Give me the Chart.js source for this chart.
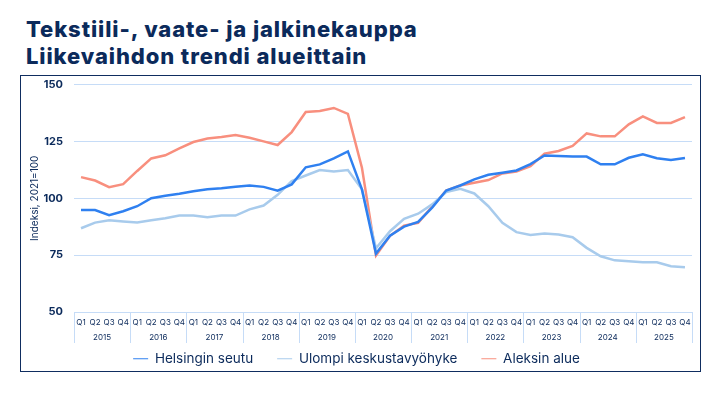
<!DOCTYPE html>
<html>
<head>
<meta charset="utf-8">
<script src="https://cdn.jsdelivr.net/npm/chart.js@4.4.1/dist/chart.umd.min.js"></script>
<style>
  body { margin: 0; background: #fff; width: 720px; height: 405px; overflow: hidden; font-family: Inter, "Noto Sans", sans-serif; }
  #title { position: absolute; left: 26px; top: 16px; color: #0b2a5b; font-size: 22px; font-weight: 800; line-height: 27px; letter-spacing: 0.9px; }
  #box { position: absolute; left: 20px; top: 75px; width: 679px; height: 295px; border: 1.5px solid #0f2d60; }
</style>
</head>
<body>
<div id="title">Tekstiili-, vaate- ja jalkinekauppa<br>Liikevaihdon trendi alueittain</div>
<div id="box"><canvas id="chartId"></canvas></div>
<script>
// years and quarters on the x axis
const years = ["2015", "2016", "2017", "2018", "2019", "2020", "2021", "2022", "2023", "2024", "2025"];
const quarters = ["Q1", "Q2", "Q3", "Q4"];
var labels = [];
for (let i = 0; i < years.length; i++) {
  for (let j = 0; j < quarters.length; j++) {
    labels.push(quarters[j]);
  }
}

// series values (index, 2021=100)
const helsinki = [94.8, 94.8, 92.6, 94.3, 96.5, 100.0, 101.1, 102.0, 103.1, 104.0, 104.4, 105.1,
  105.6, 105.0, 103.3, 106.1, 113.6, 114.9, 117.5, 120.6, 103.9, 75.7, 83.5, 87.5,
  89.6, 95.9, 103.4, 105.6, 108.3, 110.3, 111.2, 112.2, 115.0, 118.8, 118.6, 118.3,
  118.3, 114.9, 114.9, 117.8, 119.3, 117.6, 116.8, 117.7];
const ulompi = [86.8, 89.3, 90.3, 89.8, 89.3, 90.3, 91.2, 92.4, 92.4, 91.7, 92.4, 92.4,
  95.1, 96.8, 101.5, 107.6, 110.0, 112.4, 111.8, 112.4, 103.9, 78.0, 85.5, 91.0,
  93.2, 97.3, 102.7, 104.2, 102.1, 96.5, 89.2, 85.1, 83.9, 84.5, 84.1, 82.9,
  78.2, 74.5, 72.7, 72.3, 71.9, 71.9, 70.1, 69.7];
const aleksi = [109.3, 107.8, 104.9, 106.2, 112.0, 117.5, 118.9, 121.9, 124.7, 126.3, 126.9, 127.8,
  126.6, 125.0, 123.4, 129.1, 137.9, 138.4, 139.7, 137.1, 113.4, 74.8, 83.5, 88.0,
  89.2, 96.3, 103.4, 105.6, 106.8, 108.0, 110.9, 111.7, 114.1, 119.6, 120.8, 123.0,
  128.5, 127.2, 127.2, 132.5, 136.0, 133.1, 133.1, 135.7];
const yTicks = [50, 75, 100, 125, 150];

const navy = "#0b2a5b";
const gridCol = "#c6dcf7";
const fontFam = "Inter, 'Noto Sans', sans-serif";

// year labels and separators under the quarter ticks
const yearAxis = {
  id: "yearAxis",
  afterDraw(chart) {
    const ctx = chart.ctx;
    const x = chart.scales.x;
    const bottom = chart.chartArea.bottom;
    const step = x.getPixelForValue(1) - x.getPixelForValue(0);
    ctx.save();
    ctx.strokeStyle = gridCol;
    ctx.lineWidth = 1;
    ctx.fillStyle = navy;
    ctx.font = "8px " + fontFam;
    ctx.textAlign = "center";
    ctx.textBaseline = "middle";
    for (let k = 0; k <= years.length; k++) {
      const px = Math.round(x.getPixelForValue(k * 4) - step / 2) + 0.5;
      ctx.beginPath();
      ctx.moveTo(px, bottom);
      ctx.lineTo(px, bottom + 31);
      ctx.stroke();
      if (k < years.length) {
        const c = (x.getPixelForValue(k * 4) + x.getPixelForValue(k * 4 + 3)) / 2;
        ctx.fillText(years[k], c, bottom + 26);
      }
    }
    ctx.restore();
  }
};

chrt = document.getElementById("chartId").getContext("2d");

chartId = new Chart(chrt, {
  type: "line",
  data: {
    labels: labels,
    datasets: [
      { label: "Helsingin seutu", data: helsinki, borderColor: "#2f80f0", backgroundColor: "#2f80f0" },
      { label: "Ulompi keskustavyöhyke", data: ulompi, borderColor: "#a8cbec", backgroundColor: "#a8cbec" },
      { label: "Aleksin alue", data: aleksi, borderColor: "#f88f7e", backgroundColor: "#f88f7e" },
    ],
  },
  options: {
    responsive: true,
    maintainAspectRatio: false,
    animation: false,
    elements: {
      line: { borderWidth: 2.5, tension: 0 },
      point: { radius: 0 },
    },
    layout: { padding: { top: 8.5, right: 8, left: 0, bottom: 0 } },
    plugins: {
      tooltip: { enabled: false },
      legend: {
        position: "bottom",
        maxHeight: 43,
        labels: {
          usePointStyle: true,
          pointStyle: "line",
          pointStyleWidth: 15,
          padding: 24,
          color: navy,
          font: { family: fontFam, size: 13.5 },
        },
      },
    },
    scales: {
      x: {
        offset: true,
        grid: { display: false, drawTicks: false },
        border: { display: true, color: gridCol },
        ticks: {
          autoSkip: false,
          maxRotation: 0,
          padding: 6,
          color: navy,
          font: { family: fontFam, size: 8 },
        },
        afterFit: (s) => { s.height = 16; },
      },
      y: {
        min: 50,
        max: 150,
        afterBuildTicks: (s) => { s.ticks = yTicks.map((v) => ({ value: v })); },
        grid: { color: gridCol, drawTicks: true, tickLength: 11, tickColor: "rgba(0,0,0,0)" },
        border: { display: false },
        ticks: {
          padding: 0,
          color: navy,
          font: { family: fontFam, size: 11, weight: "bold" },
        },
        title: {
          display: true,
          text: "Indeksi, 2021=100",
          color: navy,
          padding: { top: 8, bottom: 0 },
          font: { family: fontFam, size: 10 },
        },
        afterFit: (s) => { s.width = 53; },
      },
    },
  },
  plugins: [yearAxis],
});
</script>
</body>
</html>
